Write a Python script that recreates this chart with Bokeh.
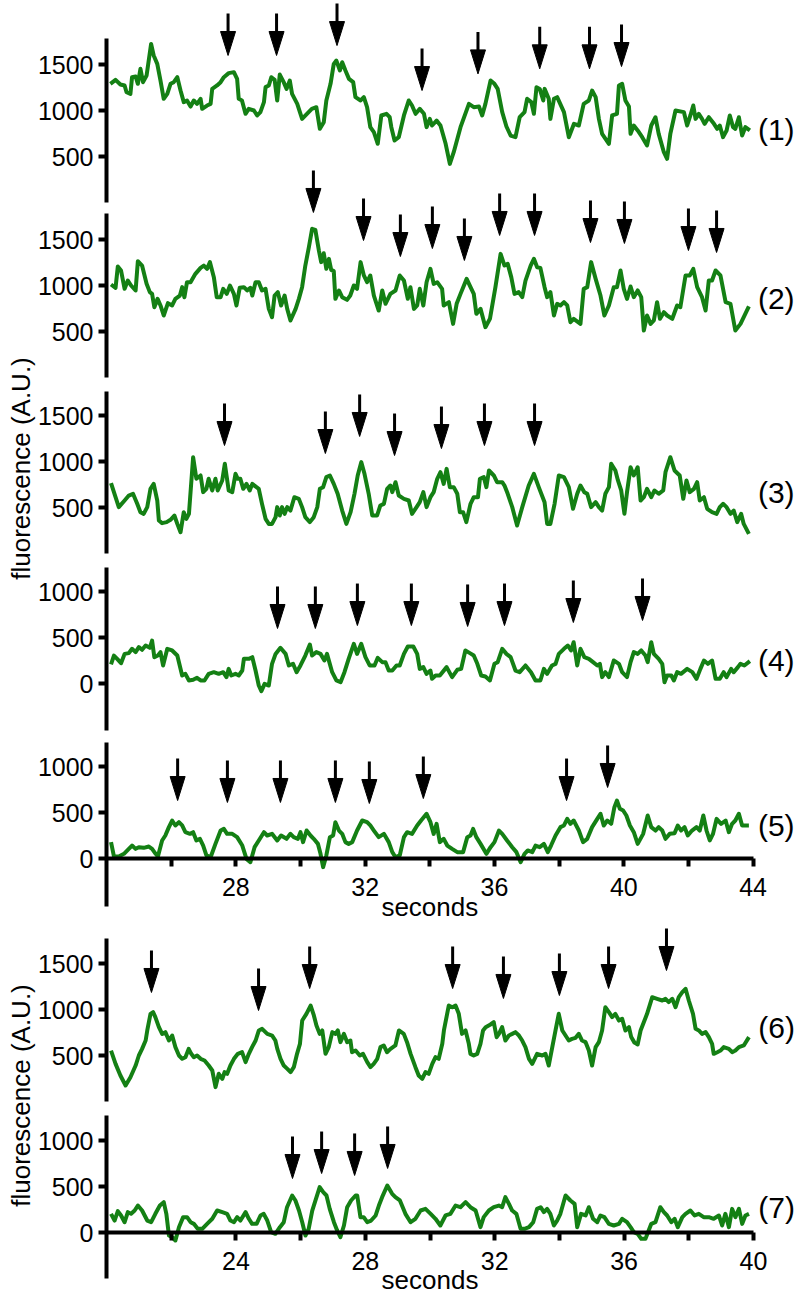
import math
from bokeh.plotting import figure
from bokeh.models import Range1d, LinearAxis, FixedTicker
from bokeh.layouts import column
from bokeh.embed import file_html
from bokeh.resources import INLINE
from bokeh.core.properties import value

# ---------------- data (time in s, fluorescence in A.U.) ----------------
trace_1 = [(24.12,1290),(24.28,1333),(24.43,1283),(24.56,1272),(24.62,1199),(24.74,1181),(24.79,1362),(24.90,1370),(24.97,1290),(25.05,1453),
(25.13,1308),(25.24,1380),(25.38,1724),(25.46,1598),(25.57,1507),(25.67,1326),(25.77,1127),(25.88,1181),(25.98,1290),(26.08,1308),
(26.19,1362),(26.29,1217),(26.39,1091),(26.49,1109),(26.60,1043),(26.70,1109),(26.80,1072),(26.91,1127),(26.96,1018),(27.11,1054),
(27.22,1072),(27.27,1235),(27.42,1272),(27.53,1308),(27.63,1362),(27.78,1406),(27.94,1417),(28.04,1344),(28.09,1127),(28.19,1109),
(28.30,964),(28.40,1018),(28.56,1000),(28.66,946),(28.76,982),(28.87,1091),(28.92,1254),(29.02,1272),(29.10,1362),(29.20,1333),
(29.28,1109),(29.36,1391),(29.48,1308),(29.57,1235),(29.67,1326),(29.74,1181),(29.90,1072),(30.05,909),(30.20,964),(30.35,1018),
(30.49,1036),(30.60,801),(30.72,873),(30.80,1109),(30.93,1290),(31.03,1507),(31.11,1543),(31.22,1435),(31.29,1525),(31.39,1435),
(31.50,1344),(31.63,1308),(31.70,1145),(31.86,1109),(31.96,1145),(32.06,1036),(32.16,819),(32.27,764),(32.39,638),(32.50,946),
(32.66,964),(32.76,927),(32.81,819),(32.91,674),(33.04,710),(33.20,946),(33.35,1109),(33.45,1054),(33.56,964),(33.69,1018),
(33.82,964),(33.90,819),(34.00,909),(34.07,837),(34.21,891),(34.33,837),(34.49,638),(34.62,420),(34.74,547),(34.95,819),
(35.21,1072),(35.36,1036),(35.52,1043),(35.62,946),(35.72,1072),(35.88,1326),(36.00,1290),(36.10,1235),(36.24,982),(36.37,826),
(36.50,728),(36.65,710),(36.78,927),(36.93,982),(37.01,1127),(37.14,1091),(37.22,964),(37.30,1254),(37.40,1235),(37.51,1109),
(37.55,1235),(37.68,1127),(37.73,909),(37.84,1127),(37.94,1145),(38.15,982),(38.30,710),(38.46,855),(38.61,837),(38.76,1072),
(38.92,1109),(39.02,1217),(39.13,1145),(39.23,909),(39.33,746),(39.54,638),(39.64,946),(39.79,964),(39.85,1272),(39.95,1290),
(40.05,1109),(40.16,1043),(40.21,746),(40.31,837),(40.43,783),(40.57,710),(40.72,620),(40.85,837),(40.98,927),(41.08,746),
(41.24,547),(41.34,475),(41.44,746),(41.60,1000),(41.86,982),(41.96,837),(42.06,946),(42.15,1054),(42.22,909),(42.32,964),
(42.42,909),(42.50,855),(42.63,927),(42.79,855),(42.89,801),(42.97,837),(43.07,710),(43.18,783),(43.28,946),(43.38,819),
(43.45,801),(43.56,927),(43.66,728),(43.76,819),(43.90,783)]

trace_2 = [(24.14,1011),(24.28,975),(24.35,1206),(24.45,1163),(24.56,964),(24.66,1054),(24.76,1000),(24.90,946),(24.97,1264),(25.10,1217),
(25.24,1018),(25.34,928),(25.41,909),(25.48,764),(25.58,855),(25.67,783),(25.77,674),(25.90,808),(26.03,783),(26.13,855),
(26.27,891),(26.34,982),(26.41,873),(26.49,1036),(26.60,1036),(26.75,1127),(26.91,1192),(27.01,1217),(27.11,1181),(27.20,1254),
(27.32,1091),(27.41,873),(27.53,873),(27.61,964),(27.72,909),(27.82,1000),(27.94,909),(28.02,783),(28.12,975),(28.25,982),
(28.35,946),(28.45,975),(28.51,891),(28.61,1036),(28.71,1036),(28.81,946),(28.92,964),(29.02,746),(29.12,656),(29.20,891),
(29.30,928),(29.40,783),(29.51,891),(29.59,746),(29.69,620),(29.85,746),(29.95,855),(30.05,982),(30.15,1217),(30.26,1417),
(30.36,1616),(30.46,1605),(30.57,1380),(30.64,1254),(30.72,1351),(30.80,1181),(30.88,1290),(30.95,1170),(31.03,1156),(31.08,855),
(31.19,946),(31.29,873),(31.44,844),(31.54,891),(31.65,1000),(31.75,964),(31.86,1254),(31.96,1109),(32.06,1036),(32.16,1109),
(32.27,891),(32.42,728),(32.53,946),(32.63,801),(32.78,909),(32.94,946),(33.07,1109),(33.20,1054),(33.32,855),(33.40,982),
(33.51,746),(33.61,783),(33.69,964),(33.80,783),(33.90,1036),(34.02,1181),(34.12,1018),(34.23,1036),(34.38,964),(34.43,783),
(34.59,819),(34.72,583),(34.83,801),(34.95,909),(35.14,1072),(35.26,982),(35.36,909),(35.44,692),(35.57,746),(35.72,547),
(35.86,638),(36.03,982),(36.19,1344),(36.31,1217),(36.41,1235),(36.52,1091),(36.62,909),(36.75,928),(36.86,873),(36.96,1054),
(37.12,1217),(37.22,1290),(37.32,1199),(37.42,1192),(37.55,982),(37.63,873),(37.73,928),(37.84,674),(37.94,801),(38.04,783),
(38.15,819),(38.25,783),(38.35,601),(38.45,638),(38.66,583),(38.76,964),(38.87,982),(38.99,1254),(39.13,1072),(39.28,891),
(39.40,674),(39.54,783),(39.69,982),(39.79,982),(39.90,1163),(40.00,964),(40.10,855),(40.21,989),(40.31,873),(40.43,946),
(40.54,873),(40.62,511),(40.72,674),(40.83,583),(40.93,620),(41.03,819),(41.12,638),(41.24,710),(41.34,674),(41.50,638),
(41.65,783),(41.75,764),(41.91,1109),(42.04,1109),(42.15,1181),(42.27,982),(42.42,873),(42.53,728),(42.63,1054),(42.73,1054),
(42.84,1163),(42.99,1109),(43.15,819),(43.30,801),(43.45,511),(43.61,583),(43.87,772)]

trace_3 = [(24.14,764),(24.28,612),(24.38,504),(24.56,576),(24.69,630),(24.82,649),(24.95,540),(25.05,449),(25.15,431),(25.26,504),
(25.36,703),(25.46,757),(25.57,576),(25.62,359),(25.72,330),(25.86,341),(25.98,366),(26.10,413),(26.19,322),(26.29,232),
(26.39,449),(26.47,377),(26.55,431),(26.68,1047),(26.78,812),(26.91,848),(26.99,667),(27.09,703),(27.16,812),(27.27,685),
(27.37,812),(27.44,685),(27.58,794),(27.66,975),(27.78,685),(27.89,667),(27.99,866),(28.06,812),(28.14,812),(28.23,703),
(28.33,757),(28.43,685),(28.51,757),(28.64,721),(28.71,703),(28.81,540),(28.92,377),(29.02,322),(29.12,322),(29.23,395),
(29.28,504),(29.36,413),(29.43,504),(29.51,431),(29.59,504),(29.69,467),(29.81,612),(29.95,594),(30.05,504),(30.15,395),
(30.29,341),(30.41,395),(30.52,504),(30.60,703),(30.70,721),(30.80,830),(30.91,848),(31.03,757),(31.15,649),(31.29,467),
(31.42,322),(31.55,449),(31.67,649),(31.77,848),(31.88,993),(31.98,866),(32.11,649),(32.22,413),(32.37,413),(32.47,522),
(32.58,540),(32.68,703),(32.78,739),(32.84,667),(32.94,775),(33.04,630),(33.20,594),(33.35,576),(33.45,431),(33.59,504),
(33.69,558),(33.80,667),(33.90,504),(34.02,612),(34.12,667),(34.23,812),(34.33,884),(34.43,757),(34.52,920),(34.62,721),
(34.74,721),(34.85,649),(34.93,449),(35.03,449),(35.13,341),(35.26,540),(35.36,612),(35.49,612),(35.55,812),(35.67,830),
(35.75,721),(35.83,902),(35.98,848),(36.08,775),(36.24,775),(36.31,739),(36.41,649),(36.55,504),(36.70,304),(36.86,504),
(37.06,739),(37.22,866),(37.37,721),(37.55,558),(37.63,322),(37.73,322),(37.86,540),(37.99,848),(38.15,830),(38.30,721),
(38.43,486),(38.56,649),(38.66,739),(38.78,667),(38.87,649),(38.99,504),(39.13,558),(39.23,504),(39.33,467),(39.43,649),
(39.54,721),(39.61,975),(39.74,902),(39.82,794),(39.92,685),(40.02,431),(40.10,667),(40.21,938),(40.31,848),(40.43,938),
(40.52,576),(40.62,612),(40.72,703),(40.85,612),(40.95,685),(41.08,649),(41.22,685),(41.29,884),(41.44,1047),(41.57,902),
(41.73,848),(41.84,594),(41.94,794),(42.04,667),(42.17,703),(42.27,775),(42.35,576),(42.48,612),(42.58,486),(42.73,449),
(42.87,431),(42.97,504),(43.07,540),(43.18,504),(43.30,431),(43.40,467),(43.51,341),(43.63,431),(43.71,322),(43.87,214)]

trace_4 = [(24.14,207),(24.23,304),(24.33,268),(24.45,221),(24.56,322),(24.69,330),(24.79,377),(24.90,341),(25.00,395),(25.10,366),
(25.21,413),(25.34,388),(25.41,467),(25.48,286),(25.59,304),(25.67,341),(25.75,196),(25.88,377),(26.03,359),(26.19,304),
(26.34,87),(26.44,105),(26.55,33),(26.68,40),(26.80,62),(26.91,33),(27.03,33),(27.16,105),(27.32,123),(27.47,105),
(27.61,123),(27.71,69),(27.78,159),(27.86,87),(27.99,105),(28.09,87),(28.20,141),(28.25,268),(28.40,268),(28.51,286),
(28.61,141),(28.71,-22),(28.79,-83),(28.89,-4),(29.02,-22),(29.12,214),(29.23,322),(29.38,388),(29.54,322),(29.64,196),
(29.77,214),(29.88,123),(30.00,196),(30.15,304),(30.29,424),(30.36,304),(30.49,341),(30.62,322),(30.74,250),(30.82,322),
(30.98,123),(31.11,33),(31.24,14),(31.36,123),(31.49,268),(31.65,431),(31.75,322),(31.88,431),(32.01,286),(32.14,196),
(32.29,196),(32.39,279),(32.53,232),(32.63,232),(32.73,141),(32.84,141),(32.97,196),(33.07,196),(33.20,322),(33.32,402),
(33.49,402),(33.61,322),(33.69,159),(33.80,178),(33.90,105),(34.02,141),(34.07,51),(34.18,87),(34.31,87),(34.52,178),
(34.69,69),(34.85,149),(34.97,159),(35.10,359),(35.24,330),(35.36,304),(35.47,214),(35.59,87),(35.72,76),(35.86,33),
(36.00,214),(36.10,232),(36.24,377),(36.37,322),(36.50,286),(36.65,141),(36.78,123),(36.96,196),(37.13,123),(37.27,33),
(37.42,33),(37.53,159),(37.63,105),(37.78,196),(37.89,214),(37.99,322),(38.15,377),(38.27,413),(38.37,359),(38.45,449),
(38.56,196),(38.66,377),(38.78,286),(38.92,268),(39.05,232),(39.18,196),(39.26,214),(39.33,69),(39.43,123),(39.54,69),
(39.69,250),(39.85,214),(39.95,123),(40.10,69),(40.21,232),(40.31,341),(40.43,322),(40.54,359),(40.67,304),(40.74,232),
(40.85,449),(40.93,322),(41.08,268),(41.19,214),(41.26,14),(41.34,87),(41.47,87),(41.55,33),(41.65,123),(41.77,105),
(41.96,159),(42.12,123),(42.25,51),(42.37,159),(42.48,250),(42.60,214),(42.73,250),(42.84,51),(42.97,51),(43.09,123),
(43.18,69),(43.32,159),(43.40,123),(43.53,178),(43.61,214),(43.73,196),(43.90,243)]

trace_5 = [(24.14,178),(24.23,22),(24.38,22),(24.54,51),(24.69,105),(24.79,141),(24.90,105),(25.00,123),(25.15,116),(25.31,130),
(25.41,105),(25.52,51),(25.59,22),(25.72,196),(25.82,250),(25.93,341),(26.03,413),(26.13,359),(26.24,395),(26.34,359),
(26.44,286),(26.58,268),(26.68,286),(26.78,196),(26.89,214),(26.99,141),(27.09,33),(27.22,14),(27.37,159),(27.53,304),
(27.63,322),(27.73,268),(27.89,268),(28.04,232),(28.20,141),(28.33,-4),(28.45,-40),(28.58,123),(28.71,196),(28.87,286),
(28.97,250),(29.12,268),(29.28,196),(29.40,250),(29.57,214),(29.69,268),(29.79,232),(29.92,214),(30.00,286),(30.08,178),
(30.19,304),(30.31,250),(30.41,214),(30.54,159),(30.62,51),(30.70,-94),(30.80,33),(30.91,232),(31.01,250),(31.08,395),
(31.19,304),(31.29,268),(31.39,178),(31.49,159),(31.60,178),(31.75,304),(31.91,413),(32.06,395),(32.16,359),(32.27,304),
(32.42,232),(32.58,268),(32.73,178),(32.84,69),(32.94,14),(33.07,33),(33.20,232),(33.30,286),(33.45,268),(33.61,359),
(33.73,413),(33.90,486),(34.02,395),(34.12,268),(34.21,377),(34.31,178),(34.43,214),(34.54,141),(34.69,105),(34.85,69),
(35.03,69),(35.16,232),(35.26,250),(35.34,322),(35.44,232),(35.57,159),(35.75,51),(35.88,123),(36.00,178),(36.14,304),
(36.24,268),(36.39,196),(36.55,123),(36.68,69),(36.81,-40),(36.93,51),(37.03,87),(37.17,69),(37.27,141),(37.40,123),
(37.53,159),(37.65,69),(37.75,141),(37.89,250),(38.04,341),(38.15,359),(38.25,431),(38.35,377),(38.45,413),(38.61,304),
(38.74,178),(38.87,214),(39.02,341),(39.18,431),(39.28,486),(39.38,359),(39.49,413),(39.61,377),(39.71,558),(39.79,630),
(39.88,540),(39.98,522),(40.08,467),(40.19,359),(40.31,286),(40.43,159),(40.60,268),(40.74,467),(40.85,341),(40.98,304),
(41.08,341),(41.19,304),(41.29,214),(41.42,268),(41.57,275),(41.67,359),(41.77,304),(41.88,341),(41.98,250),(42.11,304),
(42.25,341),(42.35,304),(42.46,467),(42.56,304),(42.66,196),(42.76,268),(42.87,431),(43.01,377),(43.15,413),(43.25,286),
(43.35,377),(43.45,413),(43.56,486),(43.66,359),(43.87,359)]

trace_6 = [(20.14,554),(20.28,409),(20.43,283),(20.59,174),(20.74,264),(20.90,391),(21.00,500),(21.10,572),(21.21,663),(21.26,772),
(21.36,953),(21.44,971),(21.51,917),(21.62,808),(21.72,735),(21.82,754),(21.93,663),(22.03,717),(22.13,591),(22.24,500),
(22.34,464),(22.44,482),(22.54,572),(22.62,518),(22.70,482),(22.80,500),(22.91,464),(23.03,446),(23.16,391),(23.27,337),
(23.37,156),(23.47,301),(23.58,246),(23.65,319),(23.73,301),(23.83,391),(23.94,464),(24.06,518),(24.19,536),(24.30,428),
(24.40,518),(24.50,591),(24.61,663),(24.71,772),(24.81,790),(24.97,735),(25.12,717),(25.22,663),(25.28,572),(25.38,464),
(25.48,391),(25.59,355),(25.69,319),(25.79,373),(25.89,518),(25.98,627),(26.05,880),(26.18,953),(26.31,1043),(26.41,935),
(26.49,826),(26.59,735),(26.67,772),(26.77,518),(26.87,591),(26.98,754),(27.08,735),(27.15,772),(27.23,645),(27.34,735),
(27.44,645),(27.54,663),(27.59,536),(27.70,554),(27.83,500),(27.93,518),(28.06,428),(28.16,373),(28.26,409),(28.37,464),
(28.47,591),(28.57,609),(28.67,536),(28.78,572),(28.93,609),(29.04,772),(29.19,735),(29.29,645),(29.40,518),(29.55,373),
(29.65,283),(29.76,246),(29.86,319),(29.96,301),(30.07,409),(30.17,482),(30.27,464),(30.38,627),(30.43,772),(30.58,1043),
(30.69,1025),(30.79,1043),(30.89,953),(30.99,735),(31.10,772),(31.20,627),(31.25,518),(31.35,500),(31.46,518),(31.56,627),
(31.64,772),(31.72,808),(31.87,837),(31.97,862),(32.06,699),(32.13,735),(32.23,808),(32.33,663),(32.44,717),(32.54,735),
(32.64,754),(32.75,717),(32.85,663),(32.95,591),(33.06,464),(33.16,409),(33.31,518),(33.47,500),(33.57,518),(33.67,391),
(33.78,591),(33.88,772),(33.98,953),(34.09,772),(34.19,717),(34.29,663),(34.39,681),(34.50,692),(34.60,735),(34.70,663),
(34.81,645),(34.91,554),(35.01,391),(35.12,591),(35.22,645),(35.32,772),(35.42,1025),(35.53,971),(35.63,917),(35.73,953),
(35.84,880),(35.94,899),(36.04,772),(36.15,808),(36.22,700),(36.32,640),(36.42,620),(36.51,772),(36.71,953),(36.87,1134),
(37.02,1116),(37.18,1098),(37.28,1116),(37.38,1080),(37.49,1116),(37.59,1025),(37.69,1134),(37.80,1188),(37.90,1225),(38.00,1098),
(38.13,953),(38.21,790),(38.31,772),(38.41,735),(38.52,754),(38.62,699),(38.72,627),(38.77,518),(38.88,536),(38.98,554),
(39.08,591),(39.24,572),(39.34,536),(39.44,554),(39.55,591),(39.70,609),(39.86,700)]

trace_7 = [(20.14,203),(20.25,130),(20.35,232),(20.45,185),(20.56,112),(20.66,221),(20.76,203),(20.87,239),(20.97,293),(21.10,239),
(21.26,130),(21.38,112),(21.51,203),(21.65,293),(21.77,330),(21.85,203),(21.93,-33),(22.03,-51),(22.13,-87),(22.24,58),
(22.37,167),(22.49,167),(22.60,112),(22.70,94),(22.82,40),(22.96,40),(23.11,94),(23.27,149),(23.42,239),(23.58,221),
(23.73,203),(23.83,130),(23.94,112),(24.04,167),(24.14,130),(24.30,221),(24.40,149),(24.50,94),(24.64,94),(24.76,185),
(24.86,203),(24.97,130),(25.09,4),(25.22,-14),(25.36,58),(25.48,112),(25.58,275),(25.74,402),(25.84,348),(25.95,239),
(26.05,112),(26.15,-33),(26.25,40),(26.36,239),(26.46,348),(26.59,493),(26.70,438),(26.80,402),(26.90,257),(27.03,112),
(27.13,22),(27.23,-51),(27.34,76),(27.44,275),(27.56,348),(27.70,402),(27.75,402),(27.85,167),(27.95,167),(28.06,112),
(28.18,130),(28.32,185),(28.42,293),(28.52,384),(28.68,511),(28.83,420),(28.93,384),(29.07,348),(29.24,203),(29.40,112),
(29.55,149),(29.71,239),(29.86,257),(30.02,203),(30.17,149),(30.32,76),(30.48,185),(30.63,203),(30.79,293),(30.94,275),
(31.10,330),(31.25,275),(31.41,239),(31.56,58),(31.66,167),(31.82,239),(31.97,275),(32.13,293),(32.23,275),(32.33,384),
(32.44,311),(32.54,239),(32.67,203),(32.80,40),(32.92,40),(33.06,58),(33.19,112),(33.31,257),(33.42,275),(33.52,221),
(33.62,257),(33.72,203),(33.83,76),(33.93,130),(34.03,203),(34.19,402),(34.34,348),(34.47,311),(34.55,58),(34.67,203),
(34.81,185),(34.91,275),(35.04,149),(35.17,112),(35.27,185),(35.39,167),(35.53,94),(35.68,76),(35.84,94),(35.94,149),
(36.09,112),(36.20,58),(36.30,4),(36.42,-14),(36.53,-69),(36.66,-69),(36.76,22),(36.84,94),(36.97,112),(37.12,275),
(37.23,221),(37.33,185),(37.46,112),(37.56,149),(37.66,58),(37.80,167),(37.90,203),(38.05,239),(38.18,185),(38.31,203),
(38.46,167),(38.62,167),(38.77,149),(38.93,185),(39.03,76),(39.13,203),(39.24,58),(39.34,257),(39.44,167),(39.55,257),
(39.65,94),(39.75,185),(39.86,203)]

# arrow (event) times and arrow-tip levels
arrow_t_1 = [27.76, 29.26, 31.13, 33.76, 35.49, 37.40, 38.94, 39.93]
arrow_y_1 = [1598, 1598, 1706, 1217, 1398, 1453, 1453, 1478]
arrow_t_2 = [30.40, 31.95, 33.09, 34.08, 35.07, 36.16, 37.24, 38.97, 40.02, 42.00, 42.87]
arrow_y_2 = [1794, 1489, 1315, 1402, 1272, 1544, 1544, 1467, 1457, 1380, 1359]
arrow_t_3 = [27.65, 30.77, 31.83, 32.91, 34.36, 35.69, 37.24]
arrow_y_3 = [1174, 1087, 1272, 1065, 1141, 1174, 1174]
arrow_t_4 = [29.29, 30.46, 31.76, 33.43, 35.17, 36.31, 38.44, 40.58]
arrow_y_4 = [598, 598, 630, 630, 620, 630, 663, 685]
arrow_t_5 = [26.20, 27.74, 29.38, 31.08, 32.13, 33.80, 38.23, 39.50]
arrow_y_5 = [630, 609, 609, 609, 598, 652, 630, 772]
arrow_t_6 = [21.39, 24.70, 26.28, 30.70, 32.27, 34.00, 35.52, 37.31]
arrow_y_6 = [1185, 989, 1228, 1228, 1120, 1152, 1228, 1424]
arrow_t_7 = [25.75, 26.65, 27.67, 28.69]
arrow_y_7 = [587, 641, 620, 696]

panel_labels = ["(1)", "(2)", "(3)", "(4)", "(5)", "(6)", "(7)"]
panel_label_y = [793, 859, 663, 250, 359, 804, 272]

yticks_high = [500, 1000, 1500]
yticks_low = [0, 500, 1000]
xticks_a = [28, 32, 36, 40, 44]
xminor_a = [26, 30, 34, 38, 42]
xticks_b = [24, 28, 32, 36, 40]
xminor_b = [22, 26, 30, 34, 38]

x_label = "seconds"
y_label = "fluorescence (A.U.)"

# ---------------- layout / style ----------------
GREEN = "#148014"
FONT = "Liberation Sans"
PAGE_W = 799
FIG_W = 799
AXIS_X_PX = 106
UNITS_PER_PX = 10.87
ARROW_LEN_PX = 42
HEAD_LEN_PX = 24
HEAD_W_PX = 15


def style_axis(ax, tick_out):
    ax.axis_line_width = 4
    ax.axis_line_color = "black"
    ax.major_tick_line_width = 4
    ax.major_tick_line_color = "black"
    ax.major_tick_out = tick_out
    ax.major_tick_in = 0
    ax.minor_tick_line_width = 4
    ax.minor_tick_line_color = "black"
    ax.minor_tick_out = tick_out
    ax.minor_tick_in = 0
    ax.major_label_text_font = FONT
    ax.major_label_text_font_size = "25px"
    ax.major_label_text_color = "black"


def build_group(panels, page_top, page_bottom, t_start, t_end, px_per_s,
                xticks, xminor, axis_panel, seconds_page_y, ylabel_page_y):
    height = page_bottom - page_top
    x_lo = t_start - AXIS_X_PX / px_per_s
    x_hi = t_start + (PAGE_W - AXIS_X_PX) / px_per_s
    p = figure(width=FIG_W, height=height,
               x_range=Range1d(x_lo, x_hi), y_range=Range1d(page_bottom, page_top),
               x_axis_type=None, y_axis_type=None, toolbar_location=None,
               output_backend="svg", min_border=0, outline_line_color=None,
               background_fill_color="white", border_fill_color="white")
    extra = {}
    for pn in panels:
        z = pn["zero"]
        extra[pn["name"]] = Range1d((z - page_bottom) * UNITS_PER_PX, (z - page_top) * UNITS_PER_PX)
    p.extra_y_ranges = extra

    hw = (HEAD_W_PX / 2) / px_per_s
    hl = HEAD_LEN_PX * UNITS_PER_PX
    al = ARROW_LEN_PX * UNITS_PER_PX
    for pn in panels:
        name = pn["name"]
        ts = [a for a, b in pn["trace"]]
        fs = [b for a, b in pn["trace"]]
        p.line(ts, fs, y_range_name=name, line_color=GREEN, line_width=4, line_join="round")

        # y axis of the panel
        ax = LinearAxis(y_range_name=name, fixed_location=t_start, bounds=pn["bounds"],
                        ticker=FixedTicker(ticks=pn["ticks"], minor_ticks=[]))
        style_axis(ax, 8)
        ax.major_label_standoff = 5
        p.add_layout(ax, "left")

        # arrows
        at, ay = pn["arrow_t"], pn["arrow_y"]
        p.segment(x0=at, y0=[y + hl * 0.6 for y in ay], x1=at, y1=[y + al for y in ay],
                  y_range_name=name, line_color="black", line_width=3)
        xs = [[t - hw, t + hw, t] for t in at]
        ys = [[y + hl, y + hl, y] for y in ay]
        p.patches(xs, ys, y_range_name=name, fill_color="black", line_color="black", line_width=1)

        # panel label
        p.text(x=[t_end + 0.15], y=[pn["label_y"]], text=[pn["label"]], y_range_name=name,
               text_font=value(FONT), text_font_size="30px", text_color="black",
               text_align="left", text_baseline="middle")

    # x axis at zero of bottom panel
    xa = LinearAxis(y_range_name=axis_panel, fixed_location=0, bounds=(t_start, t_end),
                    ticker=FixedTicker(ticks=xticks, minor_ticks=xminor))
    style_axis(xa, 8)
    xa.major_label_standoff = 11
    p.add_layout(xa, "below")

    p.text(x=[(t_start + t_end) / 2], y=[seconds_page_y], text=[x_label],
           text_font=value(FONT), text_font_size="26px", text_color="black",
           text_align="center", text_baseline="middle")
    p.text(x=[t_start - (AXIS_X_PX - 20) / px_per_s], y=[ylabel_page_y], text=[y_label],
           angle=math.pi / 2, text_font=value(FONT), text_font_size="26px", text_color="black",
           text_align="center", text_baseline="middle")
    return p


panels_a = [
    dict(name="p1", trace=trace_1, zero=202, bounds=(0, 1780), ticks=yticks_high,
         arrow_t=arrow_t_1, arrow_y=arrow_y_1, label=panel_labels[0], label_y=panel_label_y[0]),
    dict(name="p2", trace=trace_2, zero=377, bounds=(0, 1780), ticks=yticks_high,
         arrow_t=arrow_t_2, arrow_y=arrow_y_2, label=panel_labels[1], label_y=panel_label_y[1]),
    dict(name="p3", trace=trace_3, zero=553, bounds=(0, 1760), ticks=yticks_high,
         arrow_t=arrow_t_3, arrow_y=arrow_y_3, label=panel_labels[2], label_y=panel_label_y[2]),
    dict(name="p4", trace=trace_4, zero=683, bounds=(-510, 1260), ticks=yticks_low,
         arrow_t=arrow_t_4, arrow_y=arrow_y_4, label=panel_labels[3], label_y=panel_label_y[3]),
    dict(name="p5", trace=trace_5, zero=858, bounds=(-520, 1260), ticks=yticks_low,
         arrow_t=arrow_t_5, arrow_y=arrow_y_5, label=panel_labels[4], label_y=panel_label_y[4]),
]
panels_b = [
    dict(name="p6", trace=trace_6, zero=1101, bounds=(0, 1775), ticks=yticks_high,
         arrow_t=arrow_t_6, arrow_y=arrow_y_6, label=panel_labels[5], label_y=panel_label_y[5]),
    dict(name="p7", trace=trace_7, zero=1232, bounds=(-500, 1270), ticks=yticks_low,
         arrow_t=arrow_t_7, arrow_y=arrow_y_7, label=panel_labels[6], label_y=panel_label_y[6]),
]

pa = build_group(panels_a, 0, 922, 24, 44, 32.33, xticks_a, xminor_a, "p5", 906, 468)
pb = build_group(panels_b, 922, 1299, 20, 40, 32.35, xticks_b, xminor_b, "p7", 1279, 1095)

layout = column(pa, pb, spacing=0)
open("out.html", "w").write(file_html(layout, INLINE))
